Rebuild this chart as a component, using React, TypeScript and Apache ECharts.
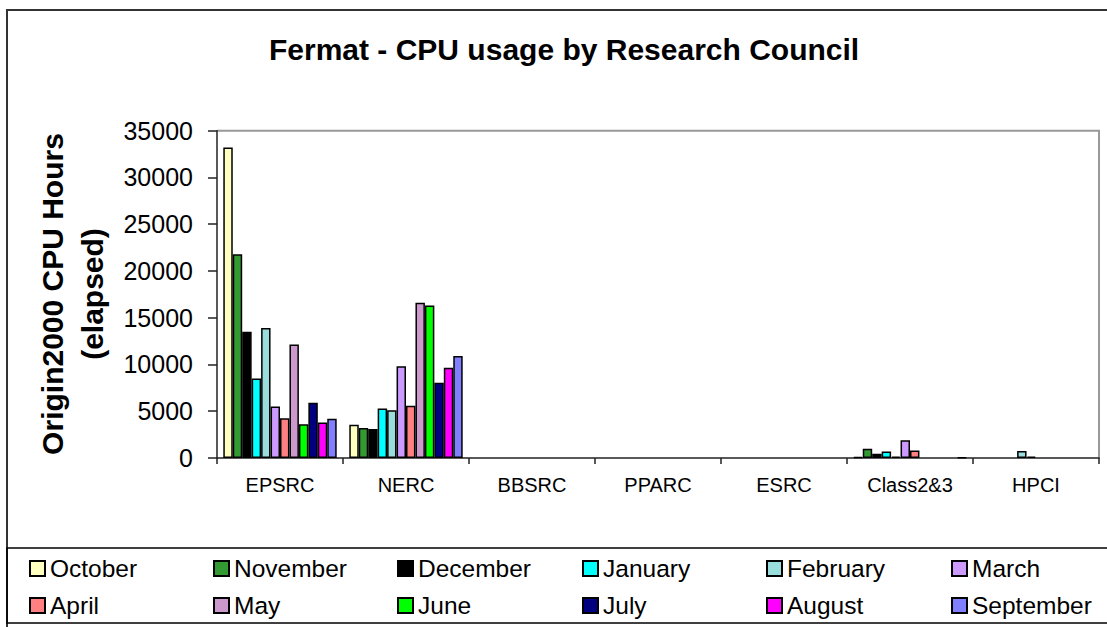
import React, { useEffect, useRef } from "react";
import * as echarts from "echarts";

const categories = ["EPSRC", "NERC", "BBSRC", "PPARC", "ESRC", "Class2&3", "HPCI"];
const months = [
  "October", "November", "December", "January", "February", "March",
  "April", "May", "June", "July", "August", "September",
];
const october = [33200, 3550, 0, 0, 0, 100, 0];
const november = [21800, 3200, 0, 0, 0, 1000, 0];
const december = [13500, 3100, 0, 0, 0, 450, 0];
const january = [8500, 5300, 0, 0, 0, 700, 0];
const february = [13900, 5100, 0, 0, 0, 150, 750];
const march = [5500, 9800, 0, 0, 0, 1900, 150];
const april = [4250, 5600, 0, 0, 0, 800, 0];
const may = [12150, 16600, 0, 0, 0, 0, 0];
const june = [3600, 16300, 0, 0, 0, 0, 0];
const july = [5900, 8050, 0, 0, 0, 0, 0];
const august = [3800, 9650, 0, 0, 0, 0, 0];
const september = [4200, 10900, 0, 0, 0, 80, 0];
const seriesValues = [october, november, december, january, february, march, april, may, june, july, august, september];
const colors = [
  "#FFFFC0", "#339933", "#000000", "#00FFFF", "#99DDDD", "#CC99FF",
  "#FF8080", "#CC99CC", "#00FF00", "#000080", "#FF00FF", "#8080FF",
];

const FONT = 'Arial, "Liberation Sans", sans-serif';
const legendCols = [29, 213, 397, 582, 766, 951];
const legendRows = [556, 593];

export default function App() {
  const ref = useRef<HTMLDivElement>(null);
  useEffect(() => {
    document.body.style.margin = "0";
    if (!ref.current) return;
    const chart = echarts.init(ref.current, null, { renderer: "svg" });
    const option: any = {
      animation: false,
      backgroundColor: "#ffffff",
      title: {
        text: "Fermat - CPU usage by Research Council",
        left: 269,
        top: 34,
        padding: 0,
        textStyle: { fontFamily: FONT, fontSize: 30, fontWeight: "bold", color: "#000", lineHeight: 30 },
      },
      grid: { left: 217, right: 8, top: 130.7, bottom: 169, containLabel: false },
      legend: months.map((m, i) => ({
        data: [m],
        left: legendCols[i % 6],
        top: legendRows[Math.floor(i / 6)],
        padding: 0,
        itemWidth: 15,
        itemHeight: 15,
        selectedMode: false,
        icon: "rect",
        textStyle: { fontFamily: FONT, fontSize: 24.5, color: "#000", lineHeight: 24 },
      })),
      xAxis: {
        type: "category",
        data: categories,
        axisLine: { lineStyle: { color: "#222", width: 1.5 } },
        axisTick: { show: true, length: 6, lineStyle: { color: "#222", width: 1.5 } },
        axisLabel: { fontFamily: FONT, fontSize: 20, color: "#000", margin: 17 },
        splitLine: { show: false },
      },
      yAxis: {
        type: "value",
        min: 0,
        max: 35000,
        interval: 5000,
        axisLine: { show: true, lineStyle: { color: "#222", width: 1.5 } },
        axisTick: { show: true, length: 9, lineStyle: { color: "#222", width: 1.5 } },
        axisLabel: {
          fontFamily: FONT,
          fontSize: 25,
          color: "#000",
          margin: 24,
          formatter: (v: number) => String(v),
        },
        splitLine: { show: false },
      },
      series: months.map((m, i) => ({
        name: m,
        type: "bar",
        barGap: "0%",
        barCategoryGap: "10%",
        data: seriesValues[i].map((v) => (v === 0 ? null : v)),
        itemStyle: { color: colors[i], borderColor: "#000", borderWidth: 1.5 },
      })),
      graphic: [
        {
          type: "rect",
          shape: { x: 7, y: 10, width: 1110, height: 630 },
          style: { fill: "none", stroke: "#333", lineWidth: 2 },
          silent: true,
        },
        {
          type: "rect",
          shape: { x: 7, y: 548, width: 1110, height: 75 },
          style: { fill: "none", stroke: "#000", lineWidth: 1.5 },
          silent: true,
        },
        {
          type: "polyline",
          shape: { points: [[217, 130.7], [1099, 130.7], [1099, 458]] },
          style: { fill: "none", stroke: "#999", lineWidth: 2 },
          silent: true,
        },
        {
          type: "text",
          x: 72,
          y: 294,
          rotation: Math.PI / 2,
          style: {
            text: "Origin2000 CPU Hours\n(elapsed)",
            fontFamily: FONT,
            fontSize: 30,
            fontWeight: "bold",
            lineHeight: 40,
            fill: "#000",
            align: "center",
            verticalAlign: "middle",
          },
        },
      ],
    };
    chart.setOption(option);
    return () => chart.dispose();
  }, []);
  return <div ref={ref} style={{ width: 1107, height: 627 }} />;
}
